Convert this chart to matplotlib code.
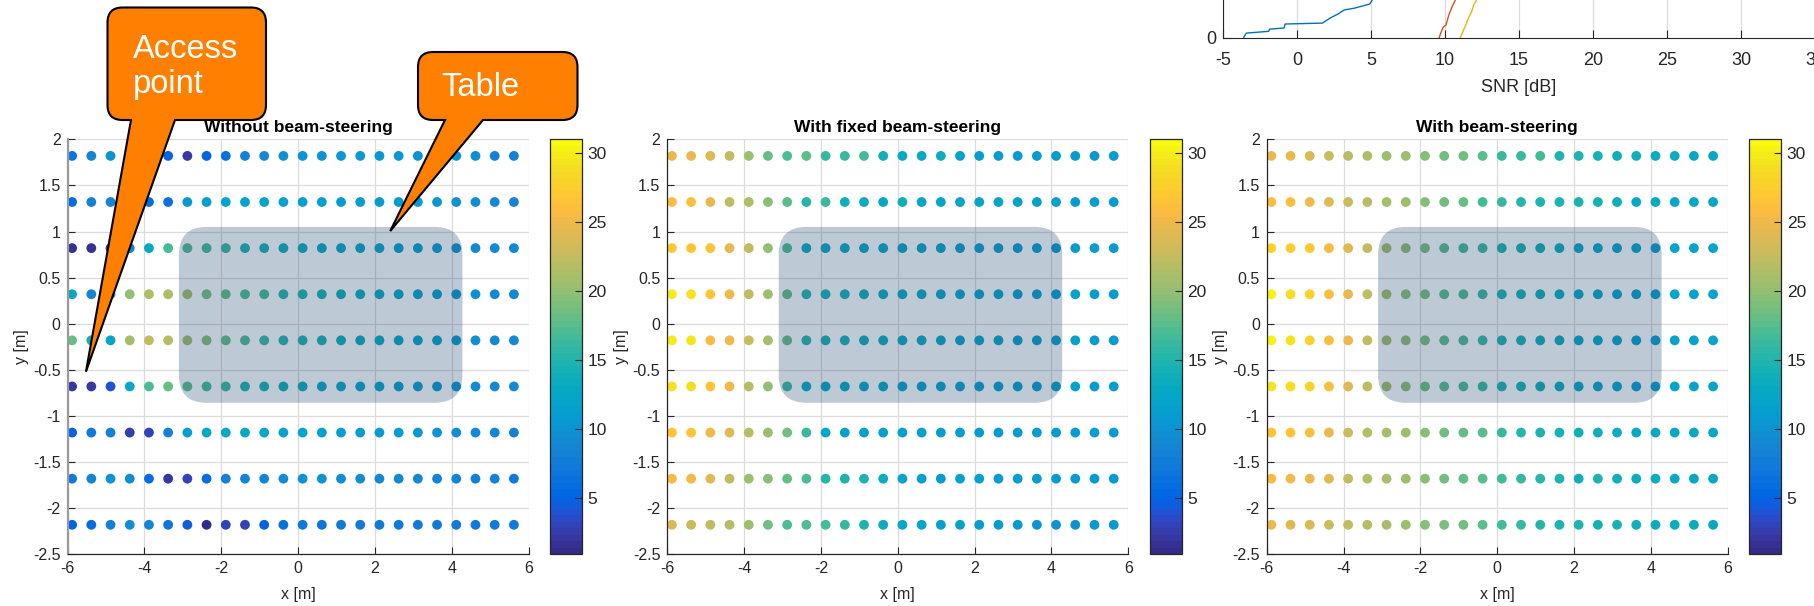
import numpy as np
import matplotlib
matplotlib.use('Agg')
import matplotlib.pyplot as plt
from matplotlib.colors import ListedColormap, Normalize
from matplotlib.patches import FancyBboxPatch, PathPatch
from matplotlib.path import Path
from matplotlib.ticker import FuncFormatter
import matplotlib.cm as cm

plt.rcParams['font.family'] = ['Liberation Sans', 'DejaVu Sans']
plt.rcParams['axes.unicode_minus'] = False

# ---------------- data ----------------
x_pos = [-5.88, -5.38, -4.88, -4.38, -3.88, -3.38, -2.88, -2.38, -1.88, -1.38, -0.88, -0.38,
         0.12, 0.62, 1.12, 1.62, 2.12, 2.62, 3.12, 3.62, 4.12, 4.62, 5.12, 5.62]
y_pos = [1.82, 1.32, 0.82, 0.32, -0.18, -0.68, -1.18, -1.68, -2.18]

snr_without = [
    [7, 8.5, 10, 10.5, 6, 5, 2, 5, 6.5, 8, 9, 9.5, 10, 10, 10.5, 10.5, 10.5, 10.5, 10, 10, 10, 9.5, 8, 8],
    [6, 8, 8.5, 7, 6, 6.5, 10.5, 11.5, 12, 12, 12, 12, 11.5, 11.5, 11, 11, 11, 11, 11, 10.5, 10, 9.5, 9, 8.5],
    [1.5, 1.5, 2, 8.5, 13, 16.5, 17, 16.5, 16, 15, 14.5, 14, 13.5, 13, 12.5, 12, 12, 11.5, 11.5, 11, 10, 9, 9, 9],
    [13, 8.5, 11, 20, 21.5, 21.5, 21, 19, 18, 17, 16.5, 15.5, 15, 14.5, 14, 13.5, 13, 12.5, 12, 11.5, 10.5, 9.5, 9, 9],
    [18, 14, 12, 21, 22.5, 22, 21, 19.5, 18, 17, 16, 15.5, 15, 14.5, 14, 13.5, 13, 12.5, 12, 11.5, 10.5, 9.5, 9, 9],
    [2, 2, 4, 13, 17, 18, 17.5, 16.5, 16, 15, 14.5, 14, 13.5, 13, 12.5, 12, 12, 11.5, 11, 10.5, 10, 9.5, 9, 9],
    [5, 7.5, 8, 2.5, 3, 8, 11.5, 13, 13, 13, 12.5, 12, 12, 11.5, 11.5, 11, 11, 11, 10.5, 10, 9.5, 9, 8.5, 8],
    [7.5, 8.5, 10, 9.5, 6, 2, 3, 6, 8, 8.5, 8.5, 9.5, 10, 10, 9.5, 9.5, 9, 9, 9, 8.5, 8.5, 8, 8, 7.5],
    [5, 6, 8, 9.5, 8.5, 7, 4.5, 1.2, 3, 3, 5, 6.5, 7.5, 7, 7.5, 7.5, 7.5, 7.5, 7.5, 7.5, 7.5, 7.5, 7.5, 7.5],
]

snr_fixed = [
    [24.5, 24.5, 23.5, 22.5, 20.5, 18, 17, 17.5, 16, 16, 16.5, 14, 13, 13, 13.5, 11.5, 11, 11, 11, 11, 11, 11, 10.5, 11],
    [26, 26, 24.5, 22.5, 21.5, 19.5, 17.5, 15.5, 16, 14, 13.5, 12.5, 14, 12, 12, 12, 12, 12, 11.5, 11.5, 11.5, 11, 11, 11],
    [27, 26.5, 26.5, 24.5, 22.5, 20, 17, 13, 12.5, 13, 12.5, 12.5, 12, 12, 12, 11.5, 11.5, 11.5, 11, 11, 10.5, 11, 11, 11],
    [30, 29.5, 26.5, 25, 22.5, 20.5, 18, 15.5, 14.5, 14.5, 14, 13.5, 13, 13, 12.5, 12, 12, 12, 11.5, 11.5, 11, 11.5, 11, 11],
    [30, 29.5, 25.5, 25, 23, 21, 18, 15.5, 14.5, 14.5, 14, 13.5, 13, 13, 12.5, 12, 12, 12, 11.5, 11.5, 11, 11.5, 11, 11],
    [29.5, 29, 26.5, 25, 22, 20, 16, 13, 12.5, 12.5, 12.5, 12.5, 12, 12, 12, 12, 11.5, 11.5, 11.5, 11, 11, 11.5, 11, 11],
    [26.5, 26.5, 25, 24, 22, 20.5, 18.5, 16, 12.5, 11.5, 11.5, 11.5, 11.5, 11.5, 11, 11, 11, 11, 11, 11, 11, 11, 11, 11],
    [25.5, 25, 24, 22.5, 20.5, 19.5, 18, 17, 15.5, 15, 15, 13.5, 12, 11.5, 10.5, 11.5, 11.5, 11, 11, 11, 11, 11, 11, 11],
    [23.5, 23, 22.5, 22, 20.5, 18.5, 17, 17, 16.5, 16, 15, 13.5, 12.5, 12, 11.5, 11.5, 11, 11, 10.5, 10, 10, 10, 10.5, 10.5],
]

snr_steer = [
    [24.5, 24.5, 23.5, 23, 22, 21.5, 20.5, 20.5, 19.5, 18.5, 18.5, 17.5, 16, 16, 16.5, 15, 15, 14.5, 14, 14, 13.5, 13.5, 13, 13],
    [26, 26, 25, 24, 23, 22, 21, 20.5, 19.5, 18.5, 18, 16.5, 16, 15.5, 15, 15, 15, 14.5, 14, 13, 13, 12.5, 12.5, 12.5],
    [28, 27.5, 27, 25.5, 24, 22.5, 21, 20, 19, 17.5, 16.5, 16, 15, 14.5, 14, 13.5, 12.5, 12.5, 12, 12, 11, 12, 12, 12],
    [30.5, 29, 28, 26, 24.5, 22.5, 21, 20, 19, 17.5, 17, 16, 15, 14.5, 14, 13.5, 12.5, 12.5, 12, 11.5, 11, 12, 12, 12],
    [30.5, 29.5, 28, 26, 24.5, 22.5, 21, 20, 19, 17.5, 17, 16, 15, 14.5, 14, 13.5, 12.5, 12.5, 12, 11.5, 11, 12, 12, 12],
    [29.5, 29, 28, 26, 24, 22.5, 21, 20, 18.5, 17.5, 17, 16, 15, 14.5, 14, 13.5, 12.5, 12, 12, 11.5, 11, 12, 12, 12],
    [26.5, 26.5, 26, 24.5, 23, 22, 21, 20.5, 19.5, 18.5, 18, 17.5, 16, 15.5, 15, 14.5, 14, 14, 13.5, 13, 13, 13, 13, 12.5],
    [25.5, 25, 24.5, 24, 22.5, 22, 21, 20.5, 19.5, 18.5, 18, 17.5, 16.5, 16, 15.5, 15, 14, 15, 14, 13.5, 13.5, 13, 13, 13],
    [24.5, 24, 23.5, 23, 22.5, 22, 21, 20.5, 19.5, 19, 18.5, 17.5, 16.5, 16, 15.5, 15, 15, 14.5, 14.5, 14, 13.5, 13.5, 13.5, 13],
]

panel_titles = ['Without beam-steering', 'With fixed beam-steering', 'With beam-steering']
colorbar_ticks = [5, 10, 15, 20, 25, 30]
snr_min, snr_max = 0.95, 31.0

# table outline (rounded rectangle) in room coordinates
table_x = [-3.1, 4.28]
table_y = [-0.857, 1.05]

# CDF curves (partially visible strip at top right)
cdf_without_snr = [-3.62, -3.43, -1.91, -1.86, -0.87, -0.81, 1.72, 2.0, 2.22, 2.77, 3.18, 3.87, 4.56, 4.92, 5.08, 5.4]
cdf_without_p = [0.0, 0.016, 0.022, 0.029, 0.033, 0.046, 0.049, 0.058, 0.065, 0.079, 0.092, 0.098, 0.107, 0.112, 0.125, 0.16]
cdf_fixed_snr = [9.6, 9.71, 9.88, 10.07, 10.26, 10.48, 10.7, 10.9]
cdf_fixed_p = [0.0, 0.016, 0.036, 0.043, 0.076, 0.103, 0.125, 0.145]
cdf_steer_snr = [11.03, 11.17, 11.36, 11.58, 11.8, 11.94, 12.13, 12.27]
cdf_steer_p = [0.0, 0.016, 0.038, 0.065, 0.087, 0.109, 0.125, 0.145]

# ---------------- parula colormap ----------------
_parula = [
    [0.2081, 0.1663, 0.5292], [0.2116, 0.1898, 0.5777], [0.2123, 0.2138, 0.6270], [0.2081, 0.2386, 0.6771],
    [0.1959, 0.2645, 0.7279], [0.1707, 0.2919, 0.7792], [0.1253, 0.3242, 0.8303], [0.0591, 0.3598, 0.8683],
    [0.0117, 0.3875, 0.8820], [0.0060, 0.4086, 0.8828], [0.0165, 0.4266, 0.8786], [0.0329, 0.4430, 0.8720],
    [0.0498, 0.4586, 0.8641], [0.0629, 0.4737, 0.8554], [0.0723, 0.4887, 0.8467], [0.0779, 0.5040, 0.8384],
    [0.0793, 0.5200, 0.8312], [0.0749, 0.5375, 0.8263], [0.0641, 0.5570, 0.8240], [0.0488, 0.5772, 0.8228],
    [0.0343, 0.5966, 0.8199], [0.0265, 0.6137, 0.8135], [0.0239, 0.6287, 0.8038], [0.0231, 0.6418, 0.7913],
    [0.0228, 0.6535, 0.7768], [0.0267, 0.6642, 0.7607], [0.0384, 0.6743, 0.7436], [0.0590, 0.6838, 0.7254],
    [0.0843, 0.6928, 0.7062], [0.1133, 0.7015, 0.6859], [0.1453, 0.7098, 0.6646], [0.1801, 0.7177, 0.6424],
    [0.2178, 0.7250, 0.6193], [0.2586, 0.7317, 0.5954], [0.3022, 0.7376, 0.5712], [0.3482, 0.7424, 0.5473],
    [0.3953, 0.7459, 0.5244], [0.4420, 0.7481, 0.5033], [0.4871, 0.7491, 0.4840], [0.5300, 0.7491, 0.4661],
    [0.5709, 0.7485, 0.4494], [0.6099, 0.7473, 0.4337], [0.6473, 0.7456, 0.4188], [0.6834, 0.7435, 0.4044],
    [0.7184, 0.7411, 0.3905], [0.7525, 0.7384, 0.3768], [0.7858, 0.7356, 0.3633], [0.8185, 0.7327, 0.3498],
    [0.8507, 0.7299, 0.3360], [0.8824, 0.7274, 0.3217], [0.9139, 0.7258, 0.3063], [0.9450, 0.7261, 0.2886],
    [0.9739, 0.7314, 0.2666], [0.9938, 0.7455, 0.2403], [0.9990, 0.7653, 0.2164], [0.9955, 0.7861, 0.1967],
    [0.9880, 0.8066, 0.1794], [0.9789, 0.8271, 0.1633], [0.9697, 0.8481, 0.1475], [0.9626, 0.8705, 0.1309],
    [0.9589, 0.8949, 0.1132], [0.9598, 0.9218, 0.0948], [0.9661, 0.9514, 0.0755], [0.9763, 0.9831, 0.0538],
]
parula = ListedColormap(_parula, name='parula')
norm = Normalize(vmin=snr_min, vmax=snr_max)

# ---------------- figure ----------------
W, H = 1814.0, 606.0
fig = plt.figure(figsize=(W / 100, H / 100), dpi=100)
fig.patch.set_facecolor('white')

axis_col = (0.15, 0.15, 0.15)
grid_col = '#dcdcdc'

ax_left_px = [67.5, 667.3, 1266.7]
ax_w_px = 461.0
ax_top_px, ax_bot_px = 139.3, 554.3
cb_gap_px, cb_w_px = 21.5, 32.0

fmt = FuncFormatter(lambda v, p: '%g' % v)
X, Y = np.meshgrid(np.array(x_pos), np.array(y_pos))
axes = []
for k, (title, vals) in enumerate(zip(panel_titles, [snr_without, snr_fixed, snr_steer])):
    l = ax_left_px[k]
    ax = fig.add_axes([l / W, 1 - ax_bot_px / H, ax_w_px / W, (ax_bot_px - ax_top_px) / H])
    axes.append(ax)
    ax.scatter(X.ravel(), Y.ravel(), c=np.array(vals).ravel(), cmap=parula, norm=norm,
               s=50, edgecolors='none', zorder=2)
    ax.set_xlim(-6, 6)
    ax.set_ylim(-2.5, 2)
    ax.set_xticks(np.arange(-6, 7, 2))
    ax.set_yticks(np.arange(-2.5, 2.01, 0.5))
    ax.xaxis.set_major_formatter(fmt)
    ax.yaxis.set_major_formatter(fmt)
    ax.grid(True, color=grid_col, lw=0.9)
    ax.set_axisbelow(True)
    ax.tick_params(direction='in', length=5, width=0.8, labelsize=11.5, colors=axis_col,
                   labelcolor='#262626', pad=5)
    for s in ['top', 'right']:
        ax.spines[s].set_visible(False)
    for s in ['left', 'bottom']:
        ax.spines[s].set_color(axis_col)
        ax.spines[s].set_linewidth(0.9)
    if k == 0:
        ax.spines['left'].set_color('#9a9a9a')
        ax.spines['left'].set_linewidth(1.6)
    ax.set_xlabel('x [m]', fontsize=11.5, color='#262626', labelpad=8)
    ax.set_ylabel('y [m]', fontsize=11.5, color='#262626', labelpad=3)
    ax.set_title(title, fontsize=12.5, fontweight='bold', pad=5)
    # table
    tw = table_x[1] - table_x[0]
    th = table_y[1] - table_y[0]
    aspect = (ax_w_px / 12.0) / ((ax_bot_px - ax_top_px) / 4.5)
    tab = FancyBboxPatch((table_x[0], table_y[0]), tw, th,
                         boxstyle='round,pad=0,rounding_size=0.72',
                         mutation_aspect=aspect, fc=(0.15, 0.30, 0.45), alpha=0.3,
                         ec='none', zorder=3)
    ax.add_patch(tab)
    # colorbar
    cax = fig.add_axes([(l + ax_w_px + cb_gap_px) / W, 1 - ax_bot_px / H, cb_w_px / W,
                        (ax_bot_px - ax_top_px) / H])
    sm = cm.ScalarMappable(norm=norm, cmap=parula)
    cb = fig.colorbar(sm, cax=cax)
    cb.set_ticks(colorbar_ticks)
    cb.ax.tick_params(direction='in', length=5, width=0.8, labelsize=12.5, colors=axis_col,
                      labelcolor='#262626', pad=4)
    cb.outline.set_linewidth(0.9)
    cb.outline.set_edgecolor(axis_col)

# ---------------- CDF strip (top right) ----------------
axc = fig.add_axes([1223 / W, 1 - 38 / H, 592 / W, 304 / H])
axc.plot(cdf_without_snr, cdf_without_p, color=(0, 0.447, 0.741), lw=1.0)
axc.plot(cdf_fixed_snr, cdf_fixed_p, color=(0.85, 0.325, 0.098), lw=1.0)
axc.plot(cdf_steer_snr, cdf_steer_p, color=(0.929, 0.694, 0.125), lw=1.0)
axc.set_xlim(-5, 35)
axc.set_ylim(0, 1)
axc.set_xticks(np.arange(-5, 36, 5))
axc.set_yticks([0])
axc.yaxis.set_major_formatter(fmt)
axc.grid(True, axis='x', color=grid_col, lw=0.9)
axc.set_axisbelow(True)
axc.tick_params(direction='in', length=6, width=0.8, labelsize=13, colors=axis_col,
                labelcolor='#262626')
axc.tick_params(axis='x', pad=10)
axc.tick_params(axis='y', pad=5)
for s in ['top', 'right']:
    axc.spines[s].set_visible(False)
for s in ['left', 'bottom']:
    axc.spines[s].set_color(axis_col)
axc.set_xlabel('SNR [dB]', fontsize=13, color='#262626', labelpad=7)

# ---------------- callouts ----------------
def callout(x0, y0, x1, y1, r, xa, xb, tip):
    # box in figure pixels (y down); tip in figure fraction
    def P(x, y):
        return (x / W, 1 - y / H)
    verts = [P(x0 + r, y0), P(x1 - r, y0), P(x1, y0), P(x1, y0 + r), P(x1, y1 - r), P(x1, y1),
             P(x1 - r, y1), P(xb, y1), tip, P(xa, y1), P(x0 + r, y1), P(x0, y1), P(x0, y1 - r),
             P(x0, y0 + r), P(x0, y0), P(x0 + r, y0), P(x0 + r, y0)]
    codes = [Path.MOVETO, Path.LINETO, Path.CURVE3, Path.CURVE3, Path.LINETO, Path.CURVE3,
             Path.CURVE3, Path.LINETO, Path.LINETO, Path.LINETO, Path.LINETO, Path.CURVE3,
             Path.CURVE3, Path.LINETO, Path.CURVE3, Path.CURVE3, Path.CLOSEPOLY]
    patch = PathPatch(Path(verts, codes), transform=fig.transFigure, fc='#ff7f00',
                      ec='black', lw=1.5, zorder=5)
    fig.add_artist(patch)


def data_to_fig(ax, x, y):
    disp = ax.transData.transform((x, y))
    return tuple(fig.transFigure.inverted().transform(disp))


callout(107.5, 7.5, 266, 120, 15, 131, 175, data_to_fig(axes[0], -5.52, -0.52))
callout(418, 52, 577.5, 120, 15, 445, 483, data_to_fig(axes[0], 2.40, 1.005))
fig.text(133 / W, 1 - 34 / H, 'Access\npoint', color='white', fontsize=23.5, ha='left', va='top',
         linespacing=1.18, zorder=6)
fig.text(441 / W, 1 - 72 / H, 'Table', color='white', fontsize=23.5, ha='left', va='top', zorder=6)

fig.savefig('out.png', dpi=100, facecolor='white')
